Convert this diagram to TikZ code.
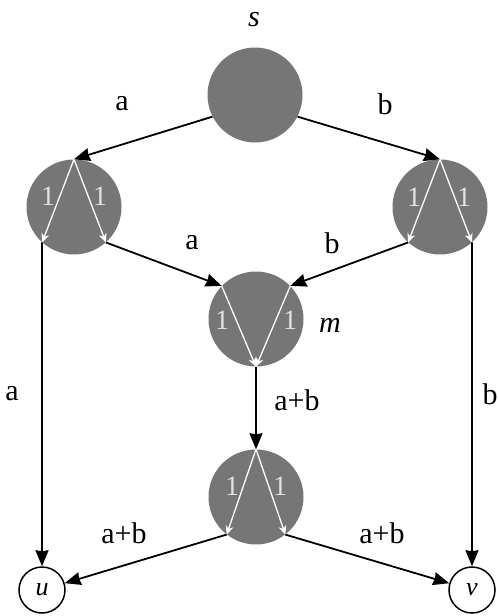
\documentclass[tikz,border=0pt]{standalone}
\usepackage{fontspec}
\setmainfont{Liberation Serif}
\newfontfamily\labfont{Liberation Serif}
\usetikzlibrary{arrows.meta}
\definecolor{coderfill}{RGB}{118,118,118}
\definecolor{coefwhite}{RGB}{226,226,226}

\begin{document}
\begin{tikzpicture}[x=1pt, y=-1pt, coder/.style={circle, fill=coderfill, minimum size=95pt, inner sep=0pt}, sink/.style={circle, draw=black, line width=1.5pt, minimum size=46pt, inner sep=0pt, font=\labfont\fontsize{26}{30}\selectfont\itshape}, flow/.style={-{Stealth[length=16pt,width=13pt,inset=1pt]}, line width=1.8pt}, mix/.style={-{Stealth[length=9pt,width=8pt]}, draw=white, line width=1.3pt}, lbl/.style={font=\labfont\fontsize{30}{34}\selectfont}, coef/.style={text=coefwhite, font=\labfont\fontsize{28}{32}\selectfont}]
\useasboundingbox (0,0) rectangle (498,616);
% nodes of the network
\node[coder] (s) at (255,95) {};
\node[coder] (l) at (74,207) {};
\node[coder] (r) at (440,207) {};
\node[coder] (m) at (256,319) {};
\node[coder] (c) at (256,497) {};
\node[sink] (u) at (42,590) {u};
\node[sink] (v) at (472,590) {v};
\node[lbl, font=\labfont\fontsize{30}{34}\selectfont\itshape] (sname) at (254,20) {s};
\node[lbl, font=\labfont\fontsize{30}{34}\selectfont\itshape] (mname) at (330,325) {m};
% mixing inside the coders
\draw[mix] (l.90) -- (l.228);
\draw[mix] (l.90) -- (l.312);
\draw[mix] (r.90) -- (r.228);
\draw[mix] (r.90) -- (r.312);
\draw[mix] (m.136) -- (m.270);
\draw[mix] (m.44) -- (m.270);
\draw[mix] (c.90) -- (c.232);
\draw[mix] (c.90) -- (c.308);
\node[coef] (l1) at (48,196) {1};
\node[coef] (l2) at (100,196) {1};
\node[coef] (r1) at (414,197) {1};
\node[coef] (r2) at (464,197) {1};
\node[coef] (m1) at (222,320) {1};
\node[coef] (m2) at (290,320) {1};
\node[coef] (c1) at (232,486) {1};
\node[coef] (c2) at (280,486) {1};
% edges
\draw[flow] (s.207) -- (l.90);
\draw[flow] (s.-27) -- (r.90);
\draw[flow] (l.312) -- (m.136);
\draw[flow] (r.228) -- (m.44);
\draw[flow] (m.270) -- (c.90);
\draw[flow] (l.228) -- (u.90);
\draw[flow] (r.312) -- (v.90);
\draw[flow] (c.232) -- (u);
\draw[flow] (c.308) -- (v);
% edge labels
\node[lbl] (ea1) at (122,104) {a};
\node[lbl] (eb1) at (385,104) {b};
\node[lbl] (ea2) at (192,243) {a};
\node[lbl] (eb2) at (332,243) {b};
\node[lbl] (ea3) at (12,394) {a};
\node[lbl] (eb3) at (490,394) {b};
\node[lbl] (eab1) at (297,400) {a+b};
\node[lbl] (eab2) at (124,533) {a+b};
\node[lbl] (eab3) at (382,533) {a+b};
\end{tikzpicture}
\end{document}
